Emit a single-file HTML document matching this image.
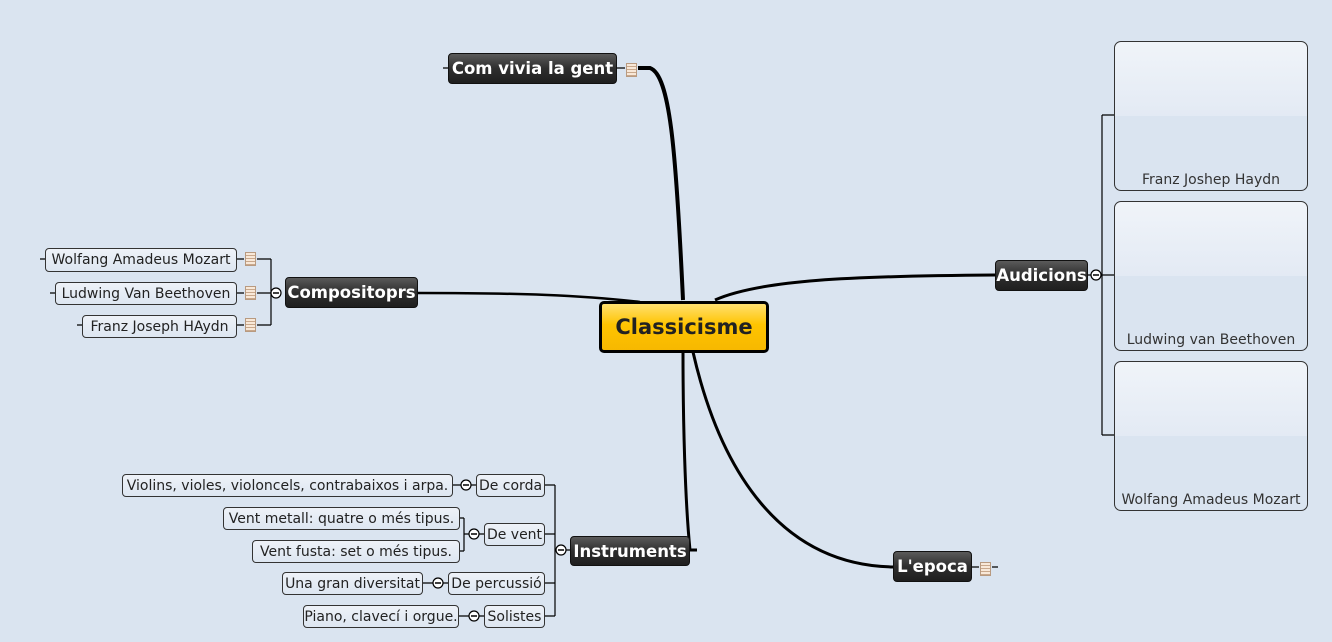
<!DOCTYPE html>
<html><head><meta charset="utf-8"><style>
body{margin:0;width:1332px;height:642px;background:#dae4f0;position:relative;overflow:hidden;font-family:"DejaVu Sans","Liberation Sans",sans-serif}
.d{position:absolute;box-sizing:border-box;border:1px solid #111;border-radius:4px;background:linear-gradient(#5a5a5a,#2e2e2e 50%,#1f1f1f);color:#fff;font-weight:bold;font-size:16.5px;display:flex;align-items:center;justify-content:center;white-space:nowrap}
.l{position:absolute;box-sizing:border-box;border:1px solid #333;border-radius:4px;background:linear-gradient(#eef2f8,#dde6f1);color:#222;font-size:14px;display:flex;align-items:center;justify-content:center;white-space:nowrap}
.b{position:absolute;box-sizing:border-box;border:1px solid #333;border-radius:7px;background:linear-gradient(#f0f4f9,#e3eaf4 50%,#dae4f0 50%);color:#333;font-size:14px;display:flex;align-items:flex-end;justify-content:center;padding-bottom:2px;white-space:nowrap}
.n{position:absolute;width:11px;height:14px;box-sizing:border-box;border:1px solid #b89a80;background:repeating-linear-gradient(#f8e8d8 0 2px,#c9a88c 2px 3px)}
</style></head><body>
<svg width="1332" height="642" style="position:absolute;left:0;top:0" fill="none" stroke="#000">
<path d="M638,68 H650 C670,75 676,150 683,300" stroke-width="4"/>
<path d="M418,293 C520,293 580,295 640,302" stroke-width="2.5"/>
<path d="M715,300 C760,280 850,276 995,275" stroke-width="3"/>
<path d="M697,550 H690 C685,500 683,420 683,352" stroke-width="3"/>
<path d="M693,352 C720,470 780,565 893,567" stroke-width="3"/>
<g stroke-width="1.2">
<path d="M271,259 V325 M257,259 H271 M257,293 H281 M257,325 H271 M237,259 H244 M237,293 H244 M237,325 H244 M40,259 H45 M50,293 H55 M77,325 H82"/>
<path d="M1088,275 H1114 M1102,115 V435 M1102,115 H1114 M1102,435 H1114"/>
<path d="M689,550 H566 M555,485 V616 M544,485 H555 M544,534 H555 M544,583 H555 M544,616 H555"/>
<path d="M452,485 H476 M464,518 V551 M459,518 H464 M459,551 H464 M464,534 H484 M422,583 H448 M458,616 H484"/>
<path d="M617,68 H625 M443,68 H448 M971,567 H979 M992,567 H998"/>
</g>
<g fill="#fff" stroke-width="1.2"><circle cx="276" cy="293" r="5"/><circle cx="1096" cy="275" r="5"/><circle cx="561" cy="550" r="5"/><circle cx="466" cy="485" r="5"/><circle cx="474" cy="534" r="5"/><circle cx="438" cy="583" r="5"/><circle cx="474" cy="616" r="5"/></g>
<g stroke-width="1.5"><path d="M273,293h6M1093,275h6M558,550h6M463,485h6M471,534h6M435,583h6M471,616h6"/></g>
</svg>
<div class="d" style="left:448px;top:53px;width:169px;height:31px">Com vivia la gent</div>
<div class="n" style="left:626px;top:63px"></div>
<div class="d" style="left:285px;top:277px;width:133px;height:31px">Compositoprs</div>
<div class="l" style="left:45px;top:248px;width:192px;height:24px">Wolfang Amadeus Mozart</div>
<div class="l" style="left:55px;top:282px;width:182px;height:23px">Ludwing Van Beethoven</div>
<div class="l" style="left:82px;top:315px;width:155px;height:23px">Franz Joseph HAydn</div>
<div class="n" style="left:245px;top:252px"></div>
<div class="n" style="left:245px;top:286px"></div>
<div class="n" style="left:245px;top:318px"></div>
<div style="position:absolute;left:599px;top:301px;width:170px;height:52px;box-sizing:border-box;border:3px solid #000;border-radius:5px;background:linear-gradient(#ffe070,#ffc400 45%,#f7b800);font-weight:bold;font-size:21px;color:#222;display:flex;align-items:center;justify-content:center">Classicisme</div>
<div class="d" style="left:995px;top:260px;width:93px;height:31px">Audicions</div>
<div class="b" style="left:1114px;top:41px;width:194px;height:150px">Franz Joshep Haydn</div>
<div class="b" style="left:1114px;top:201px;width:194px;height:150px">Ludwing van Beethoven</div>
<div class="b" style="left:1114px;top:361px;width:194px;height:150px">Wolfang Amadeus Mozart</div>
<div class="d" style="left:570px;top:536px;width:120px;height:30px">Instruments</div>
<div class="l" style="left:476px;top:474px;width:69px;height:23px">De corda</div>
<div class="l" style="left:122px;top:474px;width:331px;height:23px">Violins, violes, violoncels, contrabaixos i arpa.</div>
<div class="l" style="left:484px;top:523px;width:61px;height:23px">De vent</div>
<div class="l" style="left:223px;top:507px;width:237px;height:23px">Vent metall: quatre o més tipus.</div>
<div class="l" style="left:252px;top:540px;width:208px;height:23px">Vent fusta: set o més tipus.</div>
<div class="l" style="left:448px;top:572px;width:97px;height:23px">De percussió</div>
<div class="l" style="left:282px;top:572px;width:141px;height:23px">Una gran diversitat</div>
<div class="l" style="left:484px;top:605px;width:61px;height:23px">Solistes</div>
<div class="l" style="left:303px;top:605px;width:156px;height:23px">Piano, clavecí i orgue.</div>
<div class="d" style="left:893px;top:551px;width:79px;height:31px">L'epoca</div>
<div class="n" style="left:980px;top:562px"></div>
</body></html>
